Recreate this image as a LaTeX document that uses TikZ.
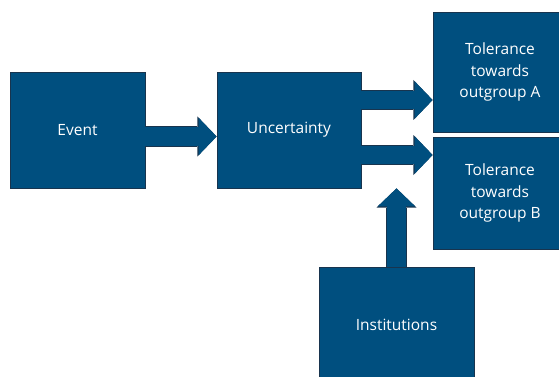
\documentclass[tikz,border=0pt]{standalone}
\usepackage{xcolor}
\usepackage{fontspec}
\setsansfont{Open Sans}
\usepackage{tikz}
\usetikzlibrary{arrows.meta}

\definecolor{boxblue}{RGB}{0,79,127}
\definecolor{boxedge}{RGB}{24,52,78}

\begin{document}
\begin{tikzpicture}[x=1pt,y=-1pt]
                \tikzstyle{block}=[draw=boxedge,fill=boxblue,line width=0.8pt,inner sep=0pt,text=white,align=center,font=\sffamily\fontsize{15.5}{21.5}\selectfont]
                \tikzstyle{flow}=[draw=boxblue,line width=18.6pt,-{Triangle[length=18pt,width=37.5pt,line width=0pt]},
                    preaction={draw=boxedge,line width=20.2pt,-{Triangle[length=19.2pt,width=40pt,line width=0pt]}}]
                \useasboundingbox (0,0) rectangle (559,377);
                \clip (0,0) rectangle (559,377);
                \node [block,minimum width=135pt,minimum height=116pt] (event) at (77.5,130) {Event};
                \node [block,minimum width=144pt,minimum height=116pt] (unc) at (289,130) {Uncertainty};
                \node [block,minimum width=134pt,minimum height=120pt] (tolA) at (500,72) {Tolerance\\towards\\outgroup A};
                \node [block,minimum width=134pt,minimum height=112pt] (tolB) at (500,193) {Tolerance\\towards\\outgroup B};
                \node [block,minimum width=155pt,minimum height=116pt] (inst) at (396.5,325) {Institutions};
                \draw [flow] ([yshift=-6.5pt]event.east) -- ([yshift=-6.5pt]unc.west);
                \draw [flow] ([yshift=30pt]unc.east) -- ([yshift=30pt]unc.east -| tolA.west);
                \draw [flow] ([yshift=-25pt]unc.east) -- ([yshift=-25pt]unc.east -| tolB.west);
                \draw [flow] (inst.north) -- (inst.north |- unc.south);
\end{tikzpicture}
\end{document}
